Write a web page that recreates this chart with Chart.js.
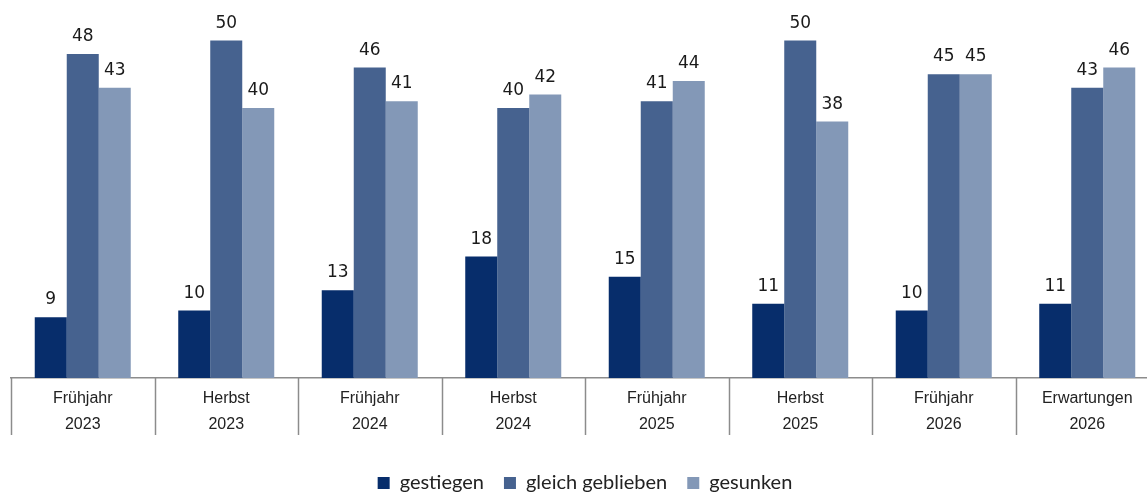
<!DOCTYPE html>
<html><head><meta charset="utf-8">
<script src="https://cdn.jsdelivr.net/npm/chart.js@4/dist/chart.umd.min.js"></script>
<style>html,body{margin:0;padding:0;overflow:hidden;background:#fff}#wrap{width:1160px;height:503px}</style>
</head><body><div id="wrap"><canvas id="c" width="1160" height="503"></canvas></div>
<script>
const periods = ["Frühjahr","Herbst","Frühjahr","Herbst","Frühjahr","Herbst","Frühjahr","Erwartungen"];
const years = ["2023","2023","2024","2024","2025","2025","2026","2026"];
const gestiegen = [9,10,13,18,15,11,10,11];
const gleichGeblieben = [48,50,46,40,41,50,45,43];
const gesunken = [43,40,41,42,44,38,45,46];
const seriesNames = ["gestiegen","gleich geblieben","gesunken"];
const colors = ["#072d6b","#46628f","#8398b7"];

const labels = periods.map((p,i)=>[p, years[i]]);

const valueLabels = {
  id:'valueLabels',
  afterDatasetsDraw(chart){
    const ctx = chart.ctx;
    ctx.save();
    ctx.font = '17px "DejaVu Sans"';
    ctx.fillStyle = '#1a1a1a';
    ctx.textAlign = 'center';
    ctx.textBaseline = 'alphabetic';
    chart.data.datasets.forEach((ds,di)=>{
      chart.getDatasetMeta(di).data.forEach((bar,i)=>{
        ctx.fillText(String(ds.data[i]), bar.x, bar.y - 13);
      });
    });
    ctx.restore();
  }
};

const separators = {
  id:'separators',
  afterDraw(chart){
    const xs = chart.scales.x;
    const ctx = chart.ctx;
    const n = chart.data.labels.length;
    const half = (xs.getPixelForValue(1) - xs.getPixelForValue(0)) / 2;
    const top = chart.chartArea.bottom;
    ctx.save();
    ctx.strokeStyle = '#8c8c8c';
    ctx.lineWidth = 1.5;
    for (let i = 0; i <= n; i++) {
      const x = Math.round(xs.getPixelForValue(i) - half) + 0.5;
      ctx.beginPath();
      ctx.moveTo(x, top);
      ctx.lineTo(x, top + 57);
      ctx.stroke();
    }
    ctx.restore();
  }
};

new Chart(document.getElementById('c'), {
  type:'bar',
  data:{
    labels: labels,
    datasets:[
      {label:seriesNames[0], data:gestiegen, backgroundColor:colors[0]},
      {label:seriesNames[1], data:gleichGeblieben, backgroundColor:colors[1]},
      {label:seriesNames[2], data:gesunken, backgroundColor:colors[2]}
    ]
  },
  options:{
    responsive:false,
    animation:false,
    layout:{padding:{left:11,right:1,top:0,bottom:0}},
    datasets:{bar:{categoryPercentage:0.669, barPercentage:1}},
    scales:{
      x:{
        offset:true,
        grid:{display:false, drawTicks:false},
        border:{display:true, color:'#8c8c8c', width:1.5},
        ticks:{color:'#222', font:{family:'"Liberation Sans"', size:16, lineHeight:1.625}, padding:8, maxRotation:0, autoSkip:false},
        afterFit(scale){ scale.height = 75; }
      },
      y:{display:false, min:0, max:56}
    },
    plugins:{
      legend:{position:'bottom', labels:{boxWidth:12, boxHeight:12, color:'#222', font:{family:'Lato', size:20}, padding:20}},
      tooltip:{enabled:false}
    }
  },
  plugins:[valueLabels, separators]
});
</script></body></html>
